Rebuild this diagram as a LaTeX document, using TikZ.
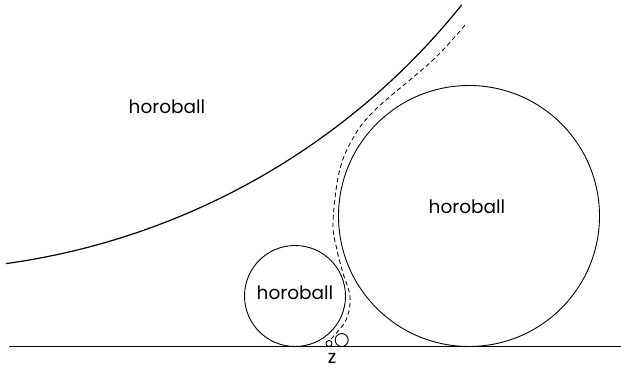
\documentclass[tikz,border=0pt]{standalone}
\usepackage{fontspec}
\setmainfont{Poppins}
\usetikzlibrary{positioning,calc}
\tikzset{
  figfont/.style={font=\fontsize{18.5}{22}\selectfont},
  figline/.style={line width=1.2pt},
  figcircle/.style={line width=0.9pt},
  figpath/.style={dash pattern=on 4.5pt off 3pt, line width=0.85pt},
}
\begin{document}
\begin{tikzpicture}[x=1pt,y=1pt,figfont]
	\useasboundingbox (0,0) rectangle (621,367);

	% Boundary line
	\coordinate (lineW) at (9,20.5);
	\coordinate (lineE) at (621,20.5);
	\draw[figline] (lineW) -- (lineE);

	% Horoball at the top left
	\coordinate (outc) at (-91,805);
	\draw[figline] ([shift={(-82.13:708.3)}]outc)
	arc[start angle=-82.13, end angle=-38.7, radius=708.3];
	\node (outlabel) at (167,260) {horoball};

	% Large and small horoballs on the line
	\coordinate (bigc) at (469,151);
	\draw[figcircle] (bigc) circle (130.5);
	\node (biglabel) at (467,160.5) {horoball};
	\coordinate (smallc) at (295,71);
	\draw[figcircle] (smallc) circle (50.5);
	\node (smalllabel) at (295,74) {horoball};

	% Tiny horoballs near z
	\coordinate (tinyc) at (329,23.5);
	\coordinate (midc) at (341.7,27);
	\draw[figcircle] (tinyc) circle (3);
	\draw[figcircle] (midc) circle (6.5);
	\node[inner sep=0pt] (zlabel) at (332,8.5) {z};

	% Dashed path from z up between the horoballs
	\draw[figpath] plot[smooth, tension=0.6] coordinates {
		(331,28) (346,47) (350,70) (343,94) (337,117) (333,144)
		(339,194) (352,227) (375,257) (433,307) (465,342)};
\end{tikzpicture}
\end{document}
